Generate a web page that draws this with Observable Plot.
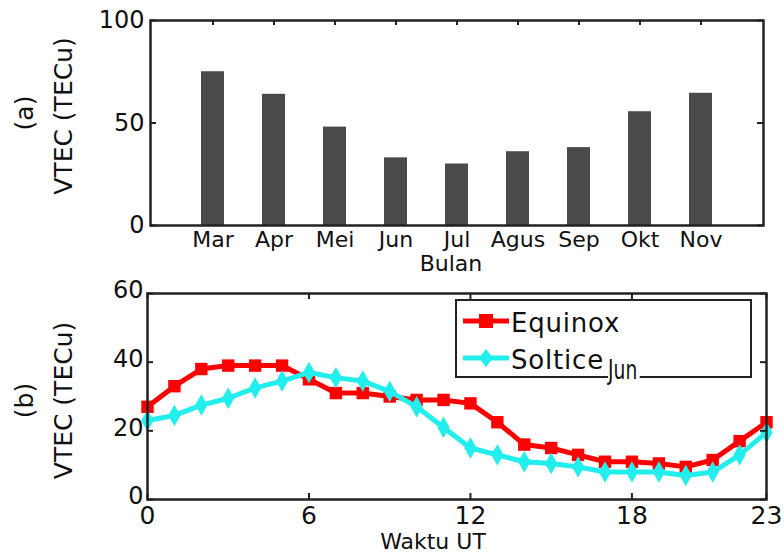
<!DOCTYPE html>
<html>
<head>
<meta charset="utf-8">
<script src="https://cdn.jsdelivr.net/npm/d3@7"></script>
<script src="https://cdn.jsdelivr.net/npm/@observablehq/plot@0.6"></script>
<style>
  html, body { margin: 0; padding: 0; background: #fff; }
  #wrap { position: relative; width: 784px; height: 560px; font-family: "DejaVu Sans", sans-serif; color: #111; }
  #panelA, #panelB { position: absolute; left: 0; }
  #panelA { top: 0; }
  #panelB { top: 280px; }
  #legend { position: absolute; left: 455px; top: 299px; width: 293px; height: 75px; border: 2px solid #222; background: #fff; z-index: 5; }
  #legend .lbl { position: absolute; font-size: 26px; letter-spacing: 0.8px; line-height: 1; color: #111; }
  #legend .jun { position: absolute; left: 151px; top: 56px; font-size: 26px; line-height: 1; background: #fff; padding: 0 3px 3px 0; transform: scaleX(0.72); transform-origin: left top; color: #111; }
</style>
</head>
<body>
<div id="wrap">
  <div id="panelA"></div>
  <div id="panelB"></div>
  <div id="legend">
    <svg width="60" height="79" style="position:absolute;left:0;top:0">
      <line x1="6" x2="52" y1="20" y2="20" stroke="#ff0000" stroke-width="5"/>
      <rect x="22" y="13" width="14" height="14" fill="#ff0000"/>
      <line x1="6" x2="52" y1="57" y2="57" stroke="#22eeee" stroke-width="5"/>
      <path d="M29,48 L36,57 L29,66 L22,57 Z" fill="#22eeee"/>
    </svg>
    <span class="lbl" style="left:54px;top:9px">Equinox</span>
    <span class="lbl" style="left:54px;top:46px">Soltice</span>
    <span class="jun">Jun</span>
  </div>
</div>
<script>
// ---- Data ----
const months = ["Mar", "Apr", "Mei", "Jun", "Jul", "Agus", "Sep", "Okt", "Nov"];
const monthlyVTEC = [75, 64, 48, 33, 30, 36, 38, 55.5, 64.5];
const monthTicksY = [0, 50, 100];

const hours = [0,1,2,3,4,5,6,7,8,9,10,11,12,13,14,15,16,17,18,19,20,21,22,23];
const equinox = [27, 33, 38, 39, 39, 39, 35, 31, 31, 30, 29, 29, 28, 22.5, 16, 15, 13, 11, 11, 10.5, 9.5, 11.5, 17, 22.5];
const solsticeJun = [23, 24.5, 27.5, 29.5, 32.5, 34.5, 37, 35.5, 34.5, 31.5, 27, 21, 15, 13, 11, 10.5, 9.5, 8, 8, 8, 7, 8, 13, 19.5];
const hourTicks = [0, 6, 12, 18, 23];
const vtecTicks = [0, 20, 40, 60];

const FONT = "DejaVu Sans, sans-serif";
const INK = "#222";

// ---- Panel (a) ----
const barData = months.map((m, i) => ({month: m, vtec: monthlyVTEC[i]}));
const aW = 784, aH = 280;
const aM = {top: 20, right: 21, bottom: 55, left: 150};
const aFrameW = aW - aM.left - aM.right;
const aFrameH = aH - aM.top - aM.bottom;

const chartA = Plot.plot({
  width: aW, height: aH,
  marginTop: aM.top, marginRight: aM.right, marginBottom: aM.bottom, marginLeft: aM.left,
  style: {fontFamily: FONT, color: "#111", background: "transparent", overflow: "visible"},
  x: {type: "band", domain: months, paddingInner: 0.62, paddingOuter: 0.81},
  y: {domain: [0, 100]},
  marks: [
    Plot.barY(barData, {x: "month", y: "vtec", fill: "#4a4a4a"}),
    Plot.tickX(months, {x: d => d, stroke: INK, strokeWidth: 2, insetBottom: aFrameH - 5}),
    Plot.tickY(monthTicksY, {y: d => d, stroke: INK, strokeWidth: 2, insetRight: aFrameW - 6}),
    Plot.tickY(monthTicksY, {y: d => d, stroke: INK, strokeWidth: 2, insetLeft: aFrameW - 6}),
    Plot.frame({stroke: INK, strokeWidth: 2.5}),
    Plot.axisX({tickSize: 0, tickPadding: 6, fontSize: 22, label: null}),
    Plot.axisY({ticks: monthTicksY, tickSize: 0, tickPadding: 6, fontSize: 24, label: null}),
    Plot.text(["Bulan"], {text: d => d, frameAnchor: "bottom", textAnchor: "middle", dy: 45, dx: -6, fontSize: 22}),
    Plot.text(["VTEC (TECu)"], {text: d => d, frameAnchor: "left", textAnchor: "middle", rotate: -90, dx: -87, dy: -7, fontSize: 25}),
    Plot.text(["(a)"], {text: d => d, frameAnchor: "left", textAnchor: "middle", rotate: -90, dx: -126, dy: -10, fontSize: 25})
  ]
});
document.getElementById("panelA").appendChild(chartA);

// ---- Panel (b) ----
const eqData = hours.map((h, i) => ({h, v: equinox[i]}));
const soData = hours.map((h, i) => ({h, v: solsticeJun[i]}));
const bW = 784, bH = 280;
const bM = {top: 13, right: 18, bottom: 61, left: 147};
const bFrameW = bW - bM.left - bM.right;
const bFrameH = bH - bM.top - bM.bottom;

const chartB = Plot.plot({
  width: bW, height: bH,
  marginTop: bM.top, marginRight: bM.right, marginBottom: bM.bottom, marginLeft: bM.left,
  style: {fontFamily: FONT, color: "#111", background: "transparent", overflow: "visible"},
  x: {domain: [0, 23]},
  y: {domain: [0, 60]},
  marks: [
    Plot.line(eqData, {x: "h", y: "v", stroke: "#ff0000", strokeWidth: 5}),
    Plot.dot(eqData, {x: "h", y: "v", symbol: "square", r: 7, fill: "#ff0000", stroke: "none"}),
    Plot.line(soData, {x: "h", y: "v", stroke: "#22eeee", strokeWidth: 5}),
    Plot.dot(soData, {x: "h", y: "v", symbol: "diamond", r: 6.5, fill: "#22eeee", stroke: "none"}),
    Plot.tickX(hourTicks, {x: d => d, stroke: INK, strokeWidth: 2, insetTop: bFrameH - 6}),
    Plot.tickX(hourTicks, {x: d => d, stroke: INK, strokeWidth: 2, insetBottom: bFrameH - 6}),
    Plot.tickY(vtecTicks, {y: d => d, stroke: INK, strokeWidth: 2, insetRight: bFrameW - 6}),
    Plot.tickY(vtecTicks, {y: d => d, stroke: INK, strokeWidth: 2, insetLeft: bFrameW - 6}),
    Plot.frame({stroke: INK, strokeWidth: 2.5}),
    Plot.axisX({ticks: hourTicks, tickSize: 0, tickPadding: 7, fontSize: 25, label: null}),
    Plot.axisY({ticks: vtecTicks, tickSize: 0, tickPadding: 4, fontSize: 24, label: null, dy: -3}),
    Plot.text(["Waktu UT"], {text: d => d, frameAnchor: "bottom", textAnchor: "middle", dy: 49, dx: -24, fontSize: 22}),
    Plot.text(["VTEC (TECu)"], {text: d => d, frameAnchor: "left", textAnchor: "middle", rotate: -90, dx: -84, dy: 4, fontSize: 25}),
    Plot.text(["(b)"], {text: d => d, frameAnchor: "left", textAnchor: "middle", rotate: -90, dx: -123, dy: 4, fontSize: 25})
  ]
});
document.getElementById("panelB").appendChild(chartB);
</script>
</body>
</html>
